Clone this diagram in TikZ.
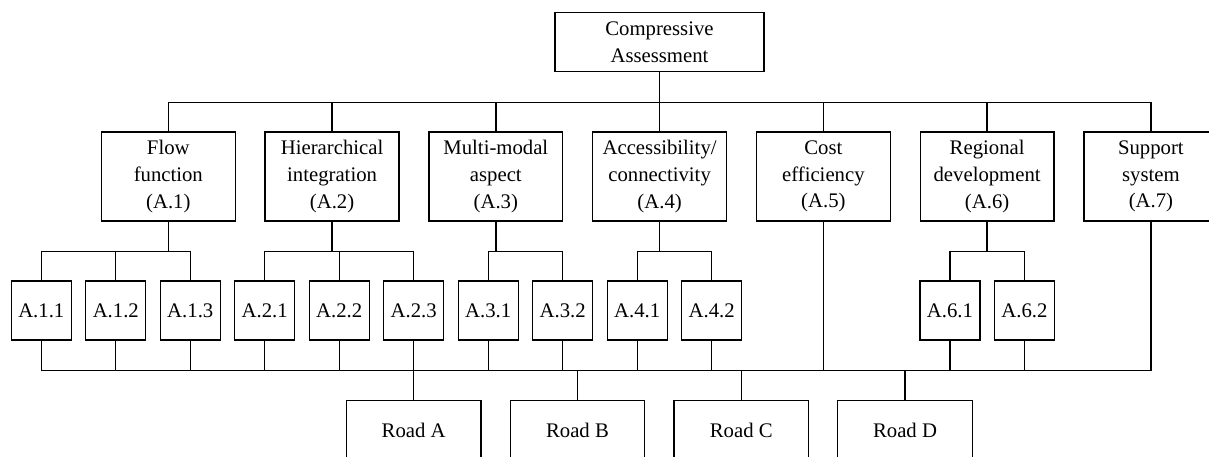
\documentclass[tikz,border=0pt]{standalone}
\usepackage{fontspec}
\setmainfont{Liberation Serif}
\usetikzlibrary{positioning}
\tikzstyle{goal} = [rectangle, draw, minimum width=4.18cm, minimum height=1.18cm, inner sep=0pt, outer sep=0pt, text centered]
\tikzstyle{criterion} = [rectangle, draw, minimum width=2.68cm, minimum height=1.78cm, inner sep=0pt, outer sep=0pt, text centered]
\tikzstyle{subcrit} = [rectangle, draw, minimum width=1.2cm, minimum height=1.18cm, inner sep=0pt, outer sep=0pt, text centered]
\tikzstyle{road} = [rectangle, draw, minimum width=2.69cm, minimum height=1.2cm, inner sep=0pt, outer sep=0pt, text centered]
\tikzstyle{wire} = [line width=0.75pt]

\begin{document}
\begin{tikzpicture}[x=0.02cm, y=-0.02cm, line width=0.75pt, align=center, node distance=0.29cm, font=\fontsize{11.8}{15.2}\selectfont]
  \clip (0,0) rectangle (1209,456);
  \node (top) [goal] at (659.5,42.3) {Compressive\\Assessment};
  % criteria
  \node (a1) [criterion] at (168.3,176.5) {Flow\\function\\(A.1)};
  \node (a2) [criterion, right=0.596cm of a1] {Hierarchical\\integration\\(A.2)};
  \node (a3) [criterion, right=0.596cm of a2] {Multi-modal\\aspect\\(A.3)};
  \node (a4) [criterion, right=0.596cm of a3] {Accessibility/\\connectivity\\(A.4)};
  \node (a5) [criterion, right=0.596cm of a4] {Cost\\efficiency\\(A.5)};
  \node (a6) [criterion, right=0.596cm of a5] {Regional\\development\\(A.6)};
  \node (a7) [criterion, right=0.596cm of a6] {Support\\system\\(A.7)};
  % sub-criteria
  \node (a11) [subcrit] at (41.3,310.5) {A.1.1};
  \node (a12) [subcrit, right=of a11] {A.1.2};
  \node (a13) [subcrit, right=of a12] {A.1.3};
  \node (a21) [subcrit, right=of a13] {A.2.1};
  \node (a22) [subcrit, right=of a21] {A.2.2};
  \node (a23) [subcrit, right=of a22] {A.2.3};
  \node (a31) [subcrit, right=of a23] {A.3.1};
  \node (a32) [subcrit, right=of a31] {A.3.2};
  \node (a41) [subcrit, right=of a32] {A.4.1};
  \node (a42) [subcrit, right=of a41] {A.4.2};
  \node (a61) [subcrit] at (950,310.5) {A.6.1};
  \node (a62) [subcrit, right=of a61] {A.6.2};
  % alternatives
  \node (ra) [road] at (413.7,430.3) {Road A};
  \node (rb) [road, right=0.586cm of ra] {Road B};
  \node (rc) [road, right=0.586cm of rb] {Road C};
  \node (rd) [road, right=0.586cm of rc] {Road D};

  \foreach \k in {1,...,7}
    \draw [wire] (top.south) |- (a\k.north |- 0,102.3) -- (a\k.north);
  \foreach \p/\c in {1/1,1/2,1/3,2/1,2/2,2/3,3/1,3/2,4/1,4/2,6/1,6/2}
    \draw [wire] (a\p.south) |- (a\p\c.north |- 0,251.7) -- (a\p\c.north);
  \draw [wire] (a11.south) |- (a7.south |- 0,370.3) -- (a7.south);
  \foreach \s in {12,13,21,22,23,31,32,41,42,5,61,62}
    \draw [wire] (a\s.south) -- (a\s.south |- 0,370.3);
  \foreach \r in {ra,rb,rc,rd}
    \draw [wire] (\r.north) -- (\r.north |- 0,370.3);
\end{tikzpicture}
\end{document}
